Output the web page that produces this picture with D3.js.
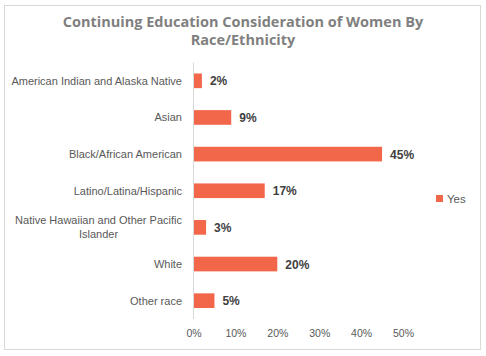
<!DOCTYPE html>
<html><head><meta charset="utf-8">
<script src="https://cdn.jsdelivr.net/npm/d3@7"></script>
<style>body{margin:0;background:#fff}svg{display:block}</style>
</head><body><svg id="c" width="486" height="356"></svg>
<script>
const categories = ["American Indian and Alaska Native","Asian","Black/African American","Latino/Latina/Hispanic","Native Hawaiian and Other Pacific|Islander","White","Other race"];
const values = [0.02,0.09,0.45,0.17,0.03,0.20,0.05];
const valueLabels = ["2%","9%","45%","17%","3%","20%","5%"];
const xTicks = [0,0.1,0.2,0.3,0.4,0.5];
const seriesName = "Yes";
const titleLines = ["Continuing Education Consideration of Women By","Race/Ethnicity"];

const svg = d3.select("#c");
const font = "'Liberation Sans', Arial, sans-serif";
svg.append("rect").attr("x",4.5).attr("y",5.5).attr("width",476).attr("height",344)
  .attr("fill","#fff").attr("stroke","#d9d9d9");

svg.append("g").selectAll("text").data(titleLines).join("text")
  .attr("x",243).attr("y",(d,i)=>27+i*18).attr("text-anchor","middle")
  .attr("font-family","'Open Sans', sans-serif").attr("font-weight","bold").attr("font-size",14.5)
  .attr("fill","#7f7f7f").text(d=>d);

const x = d3.scaleLinear().domain([0,0.5]).range([193.5,403]);
const y = d3.scaleBand().domain(categories).range([62.5,319]).paddingInner(0.6).paddingOuter(0.3);

// x axis labels
const xa = svg.append("g").attr("transform","translate(0,327)")
  .call(d3.axisBottom(x).tickValues(xTicks).tickFormat(d3.format(".0%")).tickSize(0));
xa.select(".domain").remove();
xa.selectAll("text").attr("font-family",font).attr("font-size",10.5).attr("fill","#595959");

// bars
svg.append("g").selectAll("rect").data(values).join("rect")
  .attr("x",x(0)).attr("y",(d,i)=>y(categories[i]))
  .attr("width",d=>x(d)-x(0)).attr("height",y.bandwidth()).attr("fill","#f2664a");

// category axis line
svg.append("line").attr("x1",x(0)).attr("x2",x(0)).attr("y1",62.5).attr("y2",319)
  .attr("stroke","#d9d9d9");

// category labels
const lg = svg.append("g");
categories.forEach((c,i)=>{
  const lines = c.split("|");
  const cy = y(c)+y.bandwidth()/2;
  const lh = 14;
  const t = lg.append("g");
  const texts = lines.map((ln,j)=>t.append("text")
    .attr("y",cy+4-(lines.length-1)*lh/2+j*lh)
    .attr("font-family",font).attr("font-size",11).attr("fill","#595959").text(ln));
  const widths = texts.map(tx=>tx.node().getComputedTextLength());
  const maxW = Math.max(...widths);
  const cx = 182 - maxW/2;
  texts.forEach(tx=>tx.attr("x",cx).attr("text-anchor","middle"));
});

// data labels
svg.append("g").selectAll("text").data(values).join("text")
  .attr("x",d=>x(d)+8).attr("y",(d,i)=>y(categories[i])+y.bandwidth()/2+4.5)
  .attr("font-family",font).attr("font-weight","bold").attr("font-size",12).attr("fill","#404040")
  .text((d,i)=>valueLabels[i]);

// legend
const leg = svg.append("g").attr("transform","translate(436,195)");
leg.append("rect").attr("width",7).attr("height",7).attr("fill","#f2664a");
leg.append("text").attr("x",11).attr("y",7.5).attr("font-family",font).attr("font-size",11.5)
  .attr("fill","#595959").text(seriesName);
</script></body></html>
